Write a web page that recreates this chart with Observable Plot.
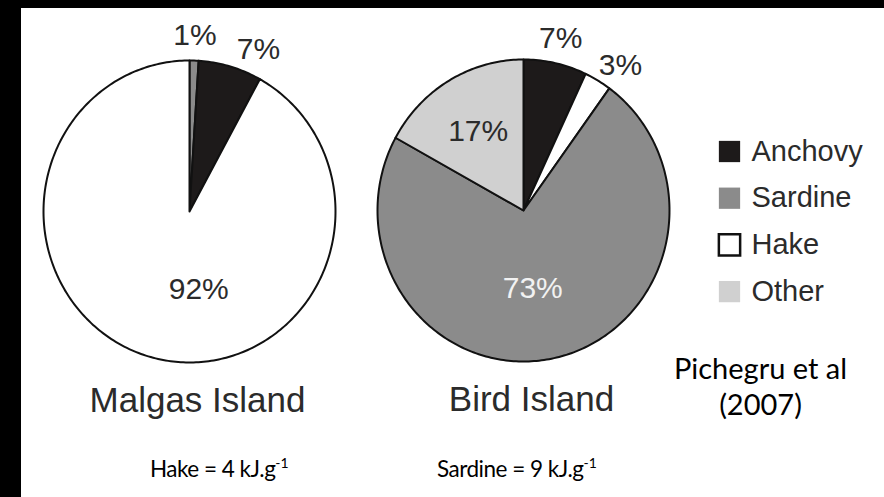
<!DOCTYPE html>
<html><head><meta charset="utf-8">
<script src="https://cdn.jsdelivr.net/npm/d3@7"></script>
<script src="https://cdn.jsdelivr.net/npm/@observablehq/plot@0.6"></script>
<style>
html,body{margin:0;padding:0;background:#000;width:884px;height:497px;overflow:hidden;position:relative;}
#paper{position:absolute;left:21px;top:8px;width:863px;height:489px;background:#fff;}
#chart{position:absolute;left:0;top:0;}
.note{position:absolute;font-family:Lato,"Open Sans",sans-serif;color:#000;font-size:22.5px;letter-spacing:-0.5px;line-height:1;white-space:nowrap;}
.note sup{font-size:0.62em;vertical-align:0.62em;line-height:0;letter-spacing:0;}
</style></head><body>
<div id="paper"></div>
<div id="chart"></div>
<script>
// ---- data ----
const categories = ["Anchovy", "Sardine", "Hake", "Other"];
const islands = ["Malgas Island", "Bird Island"];
const malgasSlices = ["Sardine", "Anchovy", "Hake"];
const malgasValues = [1, 7, 92];
const birdSlices = ["Anchovy", "Hake", "Sardine", "Other"];
const birdValues = [7, 3, 73, 17];
const citationLines = ["Pichegru et al", "(2007)"];
const energyItems = ["Hake", "Sardine"];
const energyValues = [4, 9];
const energyUnit = "kJ.g";
const energyExponent = "-1";

// ---- layout / style ----
const W = 884, H = 445;
const pieCenters = [[189, 211], [523, 210]];
const RX = 146, RY = 151;
const fills = ["#1d1a1a", "#8b8b8b", "#ffffff", "#d0d0d0"];
const textColor = "#2b2b2b";
const deg = Math.PI / 180;

const pies = [
  {island: islands[0], slices: malgasSlices, values: malgasValues},
  {island: islands[1], slices: birdSlices, values: birdValues}
];

const polyPts = [];
const labels = [];
pies.forEach((p, pi) => {
  const [cx, cy] = pieCenters[pi];
  const total = d3.sum(p.values);
  let cum = 0;
  let prevOutside = -Infinity;
  p.values.forEach((v, si) => {
    const a0 = cum / total * 2 * Math.PI;
    const a1 = (cum + v) / total * 2 * Math.PI;
    cum += v;
    const id = pi + "-" + si;
    polyPts.push({id, cat: p.slices[si], x: cx, y: cy});
    const n = Math.max(2, Math.ceil((a1 - a0) / deg));
    for (let k = 0; k <= n; k++) {
      const a = a0 + (a1 - a0) * k / n;
      polyPts.push({id, cat: p.slices[si], x: cx + RX * Math.sin(a), y: cy - RY * Math.cos(a)});
    }
    let mid = (a0 + a1) / 2;
    let f, col = textColor;
    const share = v / total;
    if (share < 0.1) {
      mid = Math.max(mid, prevOutside + 22 * deg);
      prevOutside = mid;
      f = 1.17;
    } else if (share > 0.5) {
      mid = 173 * deg; f = 0.52;
    } else {
      f = 0.61;
    }
    if (p.slices[si] === "Sardine" && share >= 0.1) col = "#f2f2f2";
    labels.push({text: v + "%", x: cx + RX * f * Math.sin(mid), y: cy - RY * f * Math.cos(mid), col});
  });
});

const titles = pies.map((p, i) => ({text: p.island, x: pieCenters[i][0] + 8, y: pieCenters[i][1] + RY + 38}));
const legend = categories.map((c, i) => ({cat: c, x: 729, y: 151 + i * 46.7}));
const cite = citationLines.map((t, i) => ({text: t, x: 760, y: 369 + i * 36}));

const chart = Plot.plot({
  width: W, height: H,
  margin: 0,
  style: {background: "transparent", overflow: "visible"},
  x: {domain: [0, W], range: [0, W], axis: null},
  y: {domain: [0, H], range: [0, H], axis: null},
  color: {domain: categories, range: fills},
  marks: [
    Plot.line(polyPts, {x: "x", y: "y", z: "id", fill: "cat", stroke: "#111", strokeWidth: 2, curve: "linear-closed", strokeLinejoin: "round"}),
    Plot.text(labels, {x: "x", y: "y", text: "text", fill: "col", fontSize: 30, fontFamily: "Liberation Sans, Arial, sans-serif"}),
    Plot.text(titles, {x: "x", y: "y", text: "text", fill: textColor, fontSize: 35, fontFamily: "Liberation Sans, Arial, sans-serif"}),
    Plot.dot(legend, {x: "x", y: "y", symbol: "square", r: 12, fill: "cat", stroke: d => d.cat === "Hake" ? "#111" : "none", strokeWidth: 2.5}),
    Plot.text(legend, {x: d => d.x + 22, y: "y", text: "cat", textAnchor: "start", fill: textColor, fontSize: 29, fontFamily: "Liberation Sans, Arial, sans-serif"}),
    Plot.text(cite, {x: "x", y: "y", text: "text", fill: "#000", fontSize: 29, fontFamily: "Lato, Open Sans, sans-serif"})
  ]
});
document.getElementById("chart").appendChild(chart);

// notes below the figure
const noteLeft = [150, 437];
energyItems.forEach((e, i) => {
  const div = document.createElement("div");
  div.className = "note";
  div.style.left = noteLeft[i] + "px";
  div.style.top = "458px";
  div.innerHTML = `${e} = ${energyValues[i]} ${energyUnit}<sup>${energyExponent}</sup>`;
  document.body.appendChild(div);
});
</script>
</body></html>
